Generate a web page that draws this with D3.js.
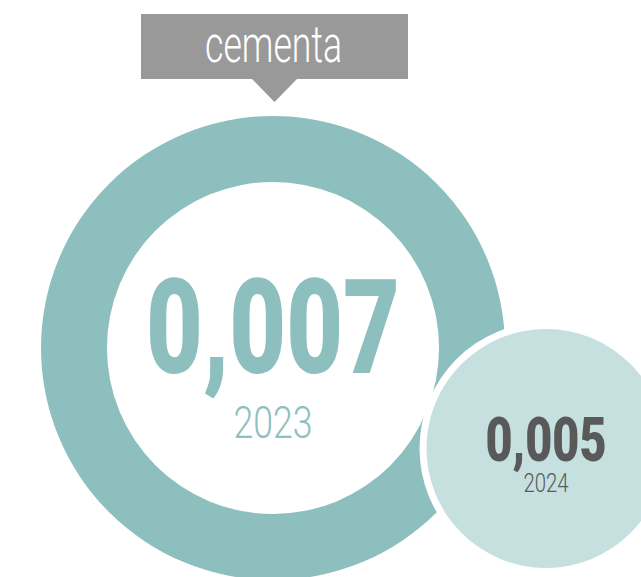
<!DOCTYPE html>
<html>
<head>
<meta charset="utf-8">
<script src="https://cdn.jsdelivr.net/npm/d3@7"></script>
<style>
  html, body { margin: 0; padding: 0; background: #fff; }
  svg { display: block; }
</style>
</head>
<body>
<svg id="chart" width="641" height="577"></svg>
<script>
// Data
const title = "cementa";
const years = ["2023", "2024"];
const valueLabels = ["0,007", "0,005"];
const values = [0.007, 0.005];

const svg = d3.select("#chart");

// Radius scale for the 2023 ring
const rScale = d3.scaleLinear().domain([0, 0.007]).range([0, 232]);

// Big ring
const big = { cx: 273, cy: 348 };
const bigOuter = rScale(values[0]);
const bigInner = bigOuter - 66;
svg.append("path")
  .attr("transform", `translate(${big.cx},${big.cy})`)
  .attr("d", d3.arc()({ innerRadius: bigInner, outerRadius: bigOuter, startAngle: 0, endAngle: 2 * Math.PI }))
  .attr("fill", "#8dbfbe");

// Big text
svg.append("text")
  .attr("x", big.cx).attr("y", 373)
  .attr("text-anchor", "middle")
  .attr("font-family", "Roboto, 'Liberation Sans Narrow', sans-serif")
  .attr("font-weight", 900)
  .attr("font-size", 131)
  .attr("textLength", 254)
  .attr("lengthAdjust", "spacingAndGlyphs")
  .attr("fill", "#8dbfbe")
  .text(valueLabels[0]);
svg.append("text")
  .attr("x", big.cx).attr("y", 438)
  .attr("text-anchor", "middle")
  .attr("font-family", "Roboto, sans-serif")
  .attr("font-weight", 300)
  .attr("font-size", 44)
  .attr("textLength", 79)
  .attr("lengthAdjust", "spacingAndGlyphs")
  .attr("fill", "#8dbfbe")
  .text(years[0]);

// Small circle (2024)
const small = { cx: 546, cy: 448.5 };
const smallR = 119.5;
svg.append("circle")
  .attr("cx", small.cx).attr("cy", small.cy).attr("r", smallR + 7)
  .attr("fill", "#ffffff");
svg.append("circle")
  .attr("cx", small.cx).attr("cy", small.cy).attr("r", smallR)
  .attr("fill", "#c5e0df");
svg.append("text")
  .attr("x", small.cx).attr("y", 461)
  .attr("text-anchor", "middle")
  .attr("font-family", "Roboto, sans-serif")
  .attr("font-weight", 900)
  .attr("font-size", 62)
  .attr("textLength", 121)
  .attr("lengthAdjust", "spacingAndGlyphs")
  .attr("fill", "#595959")
  .text(valueLabels[1]);
svg.append("text")
  .attr("x", small.cx).attr("y", 492)
  .attr("text-anchor", "middle")
  .attr("font-family", "Roboto, sans-serif")
  .attr("font-weight", 300)
  .attr("font-size", 25)
  .attr("textLength", 45)
  .attr("lengthAdjust", "spacingAndGlyphs")
  .attr("fill", "#595959")
  .text(years[1]);

// Title callout
svg.append("rect")
  .attr("x", 141).attr("y", 14).attr("width", 267).attr("height", 65)
  .attr("fill", "#999999");
svg.append("path")
  .attr("d", d3.line()([[252, 79], [297, 79], [274.5, 102]]) + "Z")
  .attr("fill", "#999999");
svg.append("text")
  .attr("x", 273.5).attr("y", 62)
  .attr("text-anchor", "middle")
  .attr("font-family", "Roboto, sans-serif")
  .attr("font-weight", 300)
  .attr("font-size", 52)
  .attr("textLength", 137)
  .attr("lengthAdjust", "spacingAndGlyphs")
  .attr("fill", "#ffffff")
  .text(title);
</script>
</body>
</html>
